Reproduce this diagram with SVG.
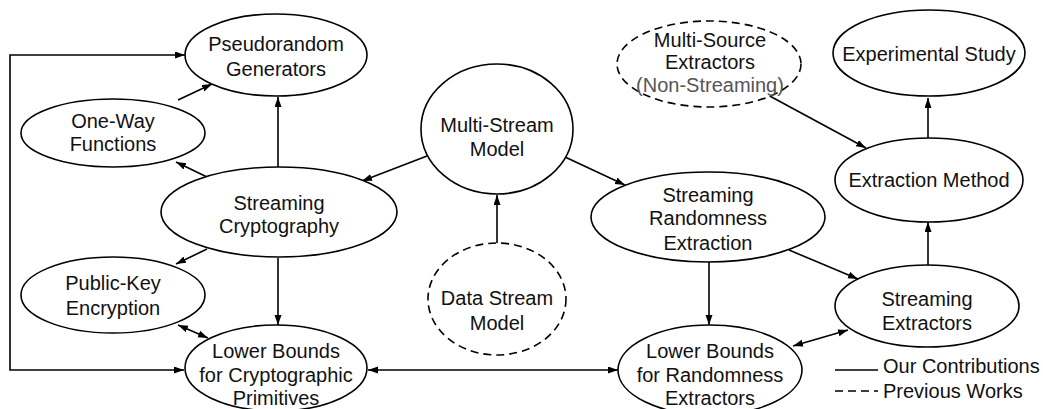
<svg xmlns="http://www.w3.org/2000/svg" width="1043" height="409" viewBox="0 0 1043 409">
<style>
.n{fill:#fff;stroke:#000;stroke-width:1.6}
.d{fill:#fff;stroke:#000;stroke-width:1.6;stroke-dasharray:8 5}
.t{font-family:"Liberation Sans",Arial,Helvetica,sans-serif;font-size:20px;fill:#111;text-anchor:middle}
.g{fill:#555}
.e{fill:none;stroke:#000;stroke-width:1.6;marker-end:url(#a)}
.b{fill:none;stroke:#000;stroke-width:1.6;marker-end:url(#a);marker-start:url(#a)}
.l{font-family:"Liberation Sans",Arial,Helvetica,sans-serif;font-size:20px;fill:#111}
</style>
<defs>
<marker id="a" markerWidth="11" markerHeight="8" refX="10" refY="3.5" orient="auto-start-reverse" markerUnits="userSpaceOnUse">
<path d="M0,0 L10,3.5 L0,7 z" fill="#000"/>
</marker>
</defs>
<rect width="1043" height="409" fill="#fff"/>
<g id="connectors">
<path class="b" d="M185,55 H10 V370 H184"/>
<path class="e" d="M178,100 L212,84"/>
<path class="e" d="M278,168 V97"/>
<path class="e" d="M207,177 L176,162"/>
<path class="e" d="M207,249 L176,264"/>
<path class="e" d="M278,258 V325"/>
<path class="b" d="M178,325 L208,338"/>
<path class="b" d="M368,370 H618"/>
<path class="e" d="M427,156 L362,181"/>
<path class="e" d="M565,157 L625,185"/>
<path class="e" d="M497,243 V195"/>
<path class="e" d="M766,94 L866,148"/>
<path class="e" d="M928,138 V98"/>
<path class="e" d="M928,265 V222"/>
<path class="e" d="M789,250 L858,279"/>
<path class="e" d="M709,262 V325"/>
<path class="b" d="M793,346 L848,330"/>
</g>
<g id="prg"><ellipse class="n" cx="276" cy="55" rx="91" ry="41"/><text class="t" x="276" y="51">Pseudorandom</text><text class="t" x="276" y="76">Generators</text></g>
<g id="owf"><ellipse class="n" cx="113" cy="133" rx="92" ry="34"/><text class="t" x="113" y="128">One-Way</text><text class="t" x="113" y="151">Functions</text></g>
<g id="sc"><ellipse class="n" cx="279" cy="212" rx="118" ry="45"/><text class="t" x="279" y="210">Streaming</text><text class="t" x="279" y="233">Cryptography</text></g>
<g id="pke"><ellipse class="n" cx="113" cy="295" rx="92" ry="38"/><text class="t" x="113" y="290">Public-Key</text><text class="t" x="113" y="315">Encryption</text></g>
<g id="lbc"><ellipse class="n" cx="276" cy="368" rx="91" ry="43"/><text class="t" x="276" y="358">Lower Bounds</text><text class="t" x="276" y="382">for Cryptographic</text><text class="t" x="276" y="405">Primitives</text></g>
<g id="msm"><ellipse class="n" cx="497" cy="129" rx="76" ry="65"/><text class="t" x="497" y="132">Multi-Stream</text><text class="t" x="497" y="156">Model</text></g>
<g id="dsm"><ellipse class="d" cx="497" cy="299" rx="69" ry="56"/><text class="t" x="497" y="305">Data Stream</text><text class="t" x="497" y="330">Model</text></g>
<g id="mse"><ellipse class="d" cx="709" cy="64" rx="92" ry="43"/><text class="t" x="710" y="47">Multi-Source</text><text class="t" x="710" y="69">Extractors</text><text class="t g" x="710" y="92">(Non-Streaming)</text></g>
<g id="es"><ellipse class="n" cx="929" cy="53" rx="96" ry="43"/><text class="t" x="929" y="61">Experimental Study</text></g>
<g id="em"><ellipse class="n" cx="929" cy="180" rx="94" ry="42"/><text class="t" x="929" y="187">Extraction Method</text></g>
<g id="sre"><ellipse class="n" cx="708" cy="217" rx="117" ry="45"/><text class="t" x="708" y="202">Streaming</text><text class="t" x="708" y="225">Randomness</text><text class="t" x="708" y="250">Extraction</text></g>
<g id="se"><ellipse class="n" cx="927" cy="306" rx="92" ry="41"/><text class="t" x="927" y="306">Streaming</text><text class="t" x="927" y="330">Extractors</text></g>
<g id="lbr"><ellipse class="n" cx="710" cy="370" rx="92" ry="45"/><text class="t" x="710" y="358">Lower Bounds</text><text class="t" x="710" y="382">for Randomness</text><text class="t" x="710" y="405">Extractors</text></g>
<g id="legend">
<line x1="835" y1="370" x2="878" y2="370" stroke="#000" stroke-width="1.6"/>
<line x1="835" y1="391" x2="878" y2="391" stroke="#000" stroke-width="1.6" stroke-dasharray="8 5"/>
<text class="l" x="883" y="373">Our Contributions</text>
<text class="l" x="883" y="398">Previous Works</text>
</g>
</svg>
